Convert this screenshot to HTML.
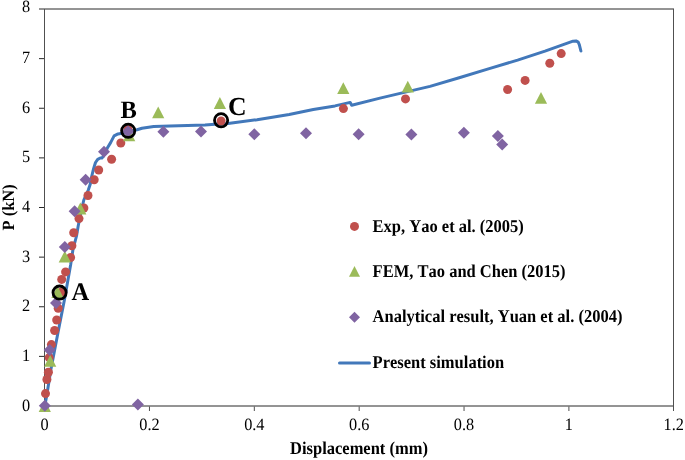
<!DOCTYPE html>
<html><head><meta charset="utf-8"><style>
html,body{margin:0;padding:0;background:#fff;}
body{width:685px;height:460px;overflow:hidden;}
svg{display:block;will-change:transform;}
text{font-family:"Liberation Serif",serif;fill:#000;font-kerning:none;text-rendering:geometricPrecision;}
.t{font-size:16.3px;}
.b{font-size:16.5px;font-weight:bold;}
.abc{font-size:24.5px;font-weight:bold;}
</style></head><body>
<svg width="685" height="460" viewBox="0 0 685 460">
<rect width="685" height="460" fill="#fff"/>
<line x1="39.0" y1="9" x2="674.0" y2="9" stroke="#282828" stroke-width="1"/>
<line x1="44.0" y1="406" x2="674.0" y2="406" stroke="#282828" stroke-width="1"/>
<line x1="44.5" y1="9" x2="44.5" y2="406" stroke="#505050" stroke-width="1"/>
<line x1="673.5" y1="9" x2="673.5" y2="411" stroke="#505050" stroke-width="1"/>
<line x1="39.0" y1="356.375" x2="44.0" y2="356.375" stroke="#282828" stroke-width="1"/>
<line x1="39.0" y1="306.75" x2="44.0" y2="306.75" stroke="#282828" stroke-width="1"/>
<line x1="39.0" y1="257.125" x2="44.0" y2="257.125" stroke="#282828" stroke-width="1"/>
<line x1="39.0" y1="207.5" x2="44.0" y2="207.5" stroke="#282828" stroke-width="1"/>
<line x1="39.0" y1="157.875" x2="44.0" y2="157.875" stroke="#282828" stroke-width="1"/>
<line x1="39.0" y1="108.25" x2="44.0" y2="108.25" stroke="#282828" stroke-width="1"/>
<line x1="39.0" y1="58.625" x2="44.0" y2="58.625" stroke="#282828" stroke-width="1"/>
<text transform="translate(30.1,410.5) scale(1,1.06)" text-anchor="end" class="t">0</text>
<text transform="translate(30.1,360.875) scale(1,1.06)" text-anchor="end" class="t">1</text>
<text transform="translate(30.1,311.25) scale(1,1.06)" text-anchor="end" class="t">2</text>
<text transform="translate(30.1,261.625) scale(1,1.06)" text-anchor="end" class="t">3</text>
<text transform="translate(30.1,212.0) scale(1,1.06)" text-anchor="end" class="t">4</text>
<text transform="translate(30.1,162.375) scale(1,1.06)" text-anchor="end" class="t">5</text>
<text transform="translate(30.1,112.75) scale(1,1.06)" text-anchor="end" class="t">6</text>
<text transform="translate(30.1,63.125) scale(1,1.06)" text-anchor="end" class="t">7</text>
<text transform="translate(30.1,12.2) scale(1,1.06)" text-anchor="end" class="t">8</text>
<line x1="44.6" y1="406.5" x2="44.6" y2="411" stroke="#505050" stroke-width="1"/>
<text transform="translate(44.6,430) scale(1,1.06)" text-anchor="middle" class="t">0</text>
<line x1="149.46" y1="406.5" x2="149.46" y2="411" stroke="#505050" stroke-width="1"/>
<text transform="translate(149.46,430) scale(1,1.06)" text-anchor="middle" class="t">0.2</text>
<line x1="254.32" y1="406.5" x2="254.32" y2="411" stroke="#505050" stroke-width="1"/>
<text transform="translate(254.32,430) scale(1,1.06)" text-anchor="middle" class="t">0.4</text>
<line x1="359.18000000000006" y1="406.5" x2="359.18000000000006" y2="411" stroke="#505050" stroke-width="1"/>
<text transform="translate(359.18000000000006,430) scale(1,1.06)" text-anchor="middle" class="t">0.6</text>
<line x1="464.04" y1="406.5" x2="464.04" y2="411" stroke="#505050" stroke-width="1"/>
<text transform="translate(464.04,430) scale(1,1.06)" text-anchor="middle" class="t">0.8</text>
<line x1="568.9" y1="406.5" x2="568.9" y2="411" stroke="#505050" stroke-width="1"/>
<text transform="translate(568.9,430) scale(1,1.06)" text-anchor="middle" class="t">1</text>
<text transform="translate(673.7600000000001,430) scale(1,1.06)" text-anchor="middle" class="t">1.2</text>
<polyline points="44.8,406 47,394 50.8,370 58.1,332 64.4,300 70.6,265 72.9,250 76.5,236 78.2,226 81,212 83.8,200 88.3,190 90.3,184 91.3,178 93.6,168.7 95.5,162.5 97.7,159.3 100.2,158 101.9,158.1 103.2,156.6 105.2,152.6 107.8,147.2 110.6,142.6 114.1,135.9 118,133.9 122,133.3 128,131.5 137,129.8 142,128.2 153.7,126.5 170,126 187.6,125.5 205,124.9 215,124.3 228,123.6 257.1,119.7 289.2,114.5 313.3,109.5 335,105.9 350.2,102.4 351.7,105.3 380,98.1 415,89.9 430,86.4 459.2,77.7 488.4,68.9 517.6,60.1 545,51.1 573,41.2 576,40.9 578.2,42.1 579.3,44.6 580.9,51" fill="none" stroke="#4278BA" stroke-width="3" stroke-linejoin="round" stroke-linecap="round"/>
<circle cx="45.5" cy="393.6" r="4.5" fill="#C0504D"/>
<circle cx="46.9" cy="379.5" r="4.5" fill="#C0504D"/>
<circle cx="48.4" cy="372.2" r="4.5" fill="#C0504D"/>
<circle cx="49.2" cy="357.6" r="4.5" fill="#C0504D"/>
<circle cx="51.4" cy="344.6" r="4.5" fill="#C0504D"/>
<circle cx="54.6" cy="330.5" r="4.5" fill="#C0504D"/>
<circle cx="56.7" cy="320" r="4.5" fill="#C0504D"/>
<circle cx="58.2" cy="308.3" r="4.5" fill="#C0504D"/>
<circle cx="61.5" cy="292" r="4.5" fill="#C0504D"/>
<circle cx="61.7" cy="279.4" r="4.5" fill="#C0504D"/>
<circle cx="65.6" cy="271.9" r="4.5" fill="#C0504D"/>
<circle cx="70.6" cy="257.5" r="4.5" fill="#C0504D"/>
<circle cx="71.9" cy="245.7" r="4.5" fill="#C0504D"/>
<circle cx="73.7" cy="232.7" r="4.5" fill="#C0504D"/>
<circle cx="79" cy="218.6" r="4.5" fill="#C0504D"/>
<circle cx="83.9" cy="208" r="4.5" fill="#C0504D"/>
<circle cx="88" cy="195.5" r="4.5" fill="#C0504D"/>
<circle cx="94.2" cy="179.8" r="4.5" fill="#C0504D"/>
<circle cx="98.7" cy="170" r="4.5" fill="#C0504D"/>
<circle cx="111.6" cy="159.2" r="4.5" fill="#C0504D"/>
<circle cx="120.8" cy="143" r="4.5" fill="#C0504D"/>
<circle cx="128" cy="129.5" r="4.5" fill="#C0504D"/>
<circle cx="221.1" cy="121" r="4.5" fill="#C0504D"/>
<circle cx="343.4" cy="108.6" r="4.5" fill="#C0504D"/>
<circle cx="405.5" cy="98.9" r="4.5" fill="#C0504D"/>
<circle cx="507.6" cy="89.5" r="4.5" fill="#C0504D"/>
<circle cx="525.1" cy="80.4" r="4.5" fill="#C0504D"/>
<circle cx="549.8" cy="63.2" r="4.5" fill="#C0504D"/>
<circle cx="561.2" cy="53.6" r="4.5" fill="#C0504D"/>
<path d="M44.8 400.10L50.90 411.90L38.70 411.90Z" fill="#9BBB59"/>
<path d="M50.2 354.90L56.30 366.70L44.10 366.70Z" fill="#9BBB59"/>
<path d="M57.5 286.10L63.60 297.90L51.40 297.90Z" fill="#9BBB59"/>
<path d="M64.8 250.70L70.90 262.50L58.70 262.50Z" fill="#9BBB59"/>
<path d="M80.3 202.60L86.40 214.40L74.20 214.40Z" fill="#9BBB59"/>
<path d="M129.2 129.40L135.30 141.20L123.10 141.20Z" fill="#9BBB59"/>
<path d="M158.2 106.40L164.30 118.20L152.10 118.20Z" fill="#9BBB59"/>
<path d="M219.9 97.10L226.00 108.90L213.80 108.90Z" fill="#9BBB59"/>
<path d="M343.3 82.30L349.40 94.10L337.20 94.10Z" fill="#9BBB59"/>
<path d="M407.8 80.70L413.90 92.50L401.70 92.50Z" fill="#9BBB59"/>
<path d="M541 91.90L547.10 103.70L534.90 103.70Z" fill="#9BBB59"/>
<path d="M44.8 399.80L50.80 405.8L44.8 411.80L38.80 405.8Z" fill="#8064A2"/>
<path d="M49.6 344.10L55.60 350.1L49.6 356.10L43.60 350.1Z" fill="#8064A2"/>
<path d="M56 297.00L62.00 303L56 309.00L50.00 303Z" fill="#8064A2"/>
<path d="M64.8 241.00L70.80 247L64.8 253.00L58.80 247Z" fill="#8064A2"/>
<path d="M74.6 205.30L80.60 211.3L74.6 217.30L68.60 211.3Z" fill="#8064A2"/>
<path d="M85.6 173.80L91.60 179.8L85.6 185.80L79.60 179.8Z" fill="#8064A2"/>
<path d="M104 145.80L110.00 151.8L104 157.80L98.00 151.8Z" fill="#8064A2"/>
<path d="M128 125.50L134.00 131.5L128 137.50L122.00 131.5Z" fill="#8064A2"/>
<path d="M163.4 125.80L169.40 131.8L163.4 137.80L157.40 131.8Z" fill="#8064A2"/>
<path d="M201 125.60L207.00 131.6L201 137.60L195.00 131.6Z" fill="#8064A2"/>
<path d="M254.3 128.20L260.30 134.2L254.3 140.20L248.30 134.2Z" fill="#8064A2"/>
<path d="M306 127.20L312.00 133.2L306 139.20L300.00 133.2Z" fill="#8064A2"/>
<path d="M358.6 128.20L364.60 134.2L358.6 140.20L352.60 134.2Z" fill="#8064A2"/>
<path d="M411.4 128.60L417.40 134.6L411.4 140.60L405.40 134.6Z" fill="#8064A2"/>
<path d="M463.9 126.70L469.90 132.7L463.9 138.70L457.90 132.7Z" fill="#8064A2"/>
<path d="M497.9 130.00L503.90 136L497.9 142.00L491.90 136Z" fill="#8064A2"/>
<path d="M502.2 138.50L508.20 144.5L502.2 150.50L496.20 144.5Z" fill="#8064A2"/>
<path d="M137.9 398.50L143.90 404.5L137.9 410.50L131.90 404.5Z" fill="#8064A2"/>
<circle cx="59.6" cy="292.6" r="6.6" fill="none" stroke="#000" stroke-width="2.8"/>
<circle cx="128.2" cy="130.8" r="6.6" fill="none" stroke="#000" stroke-width="2.8"/>
<circle cx="221.1" cy="120.3" r="6.6" fill="none" stroke="#000" stroke-width="2.8"/>
<text transform="translate(71.6,299.8) scale(1.0,1.03)" class="abc">A</text>
<text transform="translate(120.4,117.8) scale(1.0,1.02)" class="abc">B</text>
<text transform="translate(228,114.6) scale(1.05,1.06)" class="abc">C</text>
<circle cx="354.5" cy="226.4" r="4.5" fill="#C0504D"/>
<path d="M354.5 265.90L360.00 276.70L349.00 276.70Z" fill="#9BBB59"/>
<path d="M354.5 311.80L360.00 317.3L354.5 322.80L349.00 317.3Z" fill="#8064A2"/>
<line x1="339.5" y1="363.1" x2="369.5" y2="363.1" stroke="#4278BA" stroke-width="3" stroke-linecap="round"/>
<text transform="translate(372.6,231.9) scale(1,1.09)" class="b">Exp, Yao et al. (2005)</text>
<text transform="translate(372.6,277.1) scale(1,1.09)" class="b">FEM, Tao and Chen (2015)</text>
<text transform="translate(372.6,322.4) scale(1,1.09)" class="b">Analytical result, Yuan et al. (2004)</text>
<text transform="translate(372.6,367.7) scale(1,1.09)" class="b">Present simulation</text>
<text transform="translate(359,454) scale(1,1.09)" text-anchor="middle" class="b">Displacement (mm)</text>
<text transform="translate(14.0,207.4) rotate(-90) scale(1,1.04)" text-anchor="middle" class="b">P (kN)</text>
</svg>
</body></html>
